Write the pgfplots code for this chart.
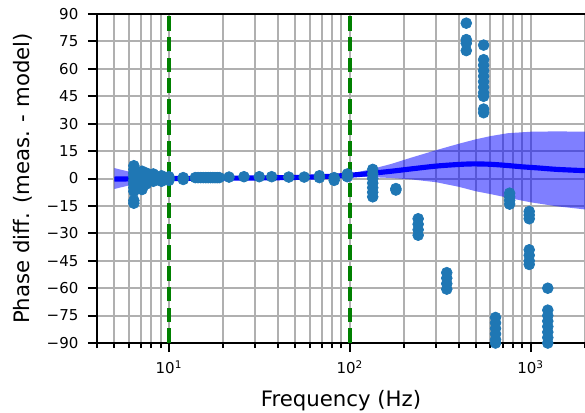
\documentclass[border=0pt]{standalone}
\usepackage{fontspec}
\setmainfont{DejaVu Sans}
\usepackage{pgfplots}
\pgfplotsset{compat=1.18}
\usetikzlibrary{calc}
\definecolor{tabblue}{HTML}{1F77B4}
\definecolor{gridgray}{HTML}{B0B0B0}
\definecolor{mplgreen}{RGB}{0,128,0}
\begin{document}
\begin{tikzpicture}
\begin{axis}[
  name=ax,
  scale only axis, width=351.4pt, height=236.9pt,
  xmode=log, xmin=4, xmax=2000, ymin=-90, ymax=90,
  axis x line=box, axis y line*=left,
  every non boxed y axis/.style={y axis line style={-}},
  axis line style={line width=1.5pt},
  xtick={10,100,1000},
  xticklabels={10\textsuperscript{1},10\textsuperscript{2},10\textsuperscript{3}},
  minor xtick={4,5,6,7,8,9,20,30,40,50,60,70,80,90,200,300,400,500,600,700,800,900,2000},
  ytick={-90,-75,...,90},
  yticklabels={−90,−75,−60,−45,−30,−15,0,15,30,45,60,75,90},
  xtick pos=left, ytick pos=left,
  tick align=outside,
  major tick length=6.5pt, minor tick length=3.6pt,
  every tick/.style={black, line width=1.4pt},
  grid=both,
  major grid style={gridgray, line width=1.4pt},
  minor grid style={gridgray, line width=1.4pt},
  tick label style={font=\fontsize{10.8}{13}\selectfont},
  yticklabel style={xshift=-3.4pt},
  xticklabel style={yshift=-2.5pt},
  label style={font=\fontsize{15.3}{18}\selectfont},
  xlabel={Frequency (Hz)},
  ylabel={Phase diff. (meas. - model)},
  xlabel style={at={(axis description cs:0.5,-0.176)}, anchor=center},
  ylabel style={at={(axis description cs:-0.1526,0.5)}, anchor=center},
  clip=true,
]
% measured points
\addplot[only marks, mark=*, mark size=3.9pt, color=tabblue, mark options={draw=tabblue, fill=tabblue, line width=0.5pt}] coordinates {
(6.4,7) (6.4,5) (6.4,3) (6.4,1) (6.4,-1) (6.4,-3) (6.4,-5) (6.4,-7) (6.4,-12) (6.4,-13.5)
(7.1,4) (7.1,2) (7.1,0) (7.1,-2) (7.1,-4) (7.1,-6)
(7.5,3) (7.5,1) (7.5,-1) (7.5,-3)
(8.2,2.5) (8.2,0.5) (8.2,-1.5)
(9.1,1.5) (9.1,0) (9.1,-1.5)
(10,1) (10,0) (10,-1)
(12,0.5) (12,-0.5)
(14,0.5) (14.5,0.5) (15,0.5) (15.5,0.5) (16,0.5) (16.5,0.5) (17,0.5) (17.5,0.5) (18,0.5) (18.5,0.5) (19,0.5)
(21.5,0.8) (26,1) (31.6,1) (37,1) (46,0.8) (56,0.8) (68,1.5) (68,0.5) (82,0.5) (82,-1) (97,2.5) (97,1)
(134,5) (134,2.5) (134,0) (134,-2.5) (134,-5) (134,-7.5) (134,-10)
(180,-6.3) (180,-5.5)
(239,-22) (239,-25) (239,-28) (239,-31)
(344,-51.5) (344,-54.5) (344,-57.5) (344,-60.5)
(441,85) (441,76) (441,74) (441,70)
(550,73) (550,65) (550,62) (550,59) (550,56) (550,53) (550,50) (550,47) (550,45) (550,38) (550,36)
(640,-76) (640,-79) (640,-82) (640,-85) (640,-88) (640,-90)
(766,-8) (766,-10) (766,-12) (766,-14)
(983,-18) (983,-20) (983,-22) (983,-39) (983,-42) (983,-45) (983,-47)
(1245,-60) (1245,-72) (1245,-75) (1245,-78) (1245,-81) (1245,-84) (1245,-87) (1245,-90)
};
% uncertainty band
\addplot[draw=none, fill=blue, fill opacity=0.5] coordinates {
(5,5.7) (6,3.8) (7,2.5) (8,1.6) (10,0.6) (15,0.3) (20,0.4) (30,0.5) (50,0.8) (70,1.4) (100,2.6) (130,5.0) (170,8.0) (220,11.5) (300,15.5) (400,19.0) (500,21.5) (600,23.2) (750,24.8) (1000,25.6) (1400,25.8) (2000,25.6)
(2000,-16.9) (1400,-15.2) (1000,-13.0) (750,-10.5) (600,-8.5) (500,-7) (400,-4.5) (300,-2.0) (220,-0.5) (170,0.3) (130,0.8) (100,1.0) (70,0.6) (50,0.4) (30,0.1) (20,0.0) (15,-0.1) (10,-0.6) (8,-1.7) (7,-2.6) (6,-3.8) (5,-5.7)
} -- cycle;
% model line
\addplot[blue, line width=3.7pt, smooth] coordinates {
(5,-0.3) (6,-0.2) (7,-0.1) (8,0) (10,0) (15,0.1) (20,0.2) (30,0.3) (50,0.6) (70,1.0) (100,1.8) (130,2.8) (170,4.0) (220,5.3) (300,6.8) (400,7.7) (480,8.0) (600,7.8) (750,7.1) (900,6.4) (1100,5.8) (1400,5.0) (2000,4.3)
};
% band limits
\addplot[mplgreen, line width=2.8pt, dash pattern=on 10.5pt off 4.5pt] coordinates {(10,-90) (10,90)};
\addplot[mplgreen, line width=2.8pt, dash pattern=on 10.5pt off 4.5pt] coordinates {(100,-90) (100,90)};
\end{axis}
\pgfresetboundingbox
\path ($(ax.south west)+(-69.8pt,-49.7pt)$) rectangle ($(ax.north east)+(0pt,10.1pt)$);
\end{tikzpicture}
\end{document}
